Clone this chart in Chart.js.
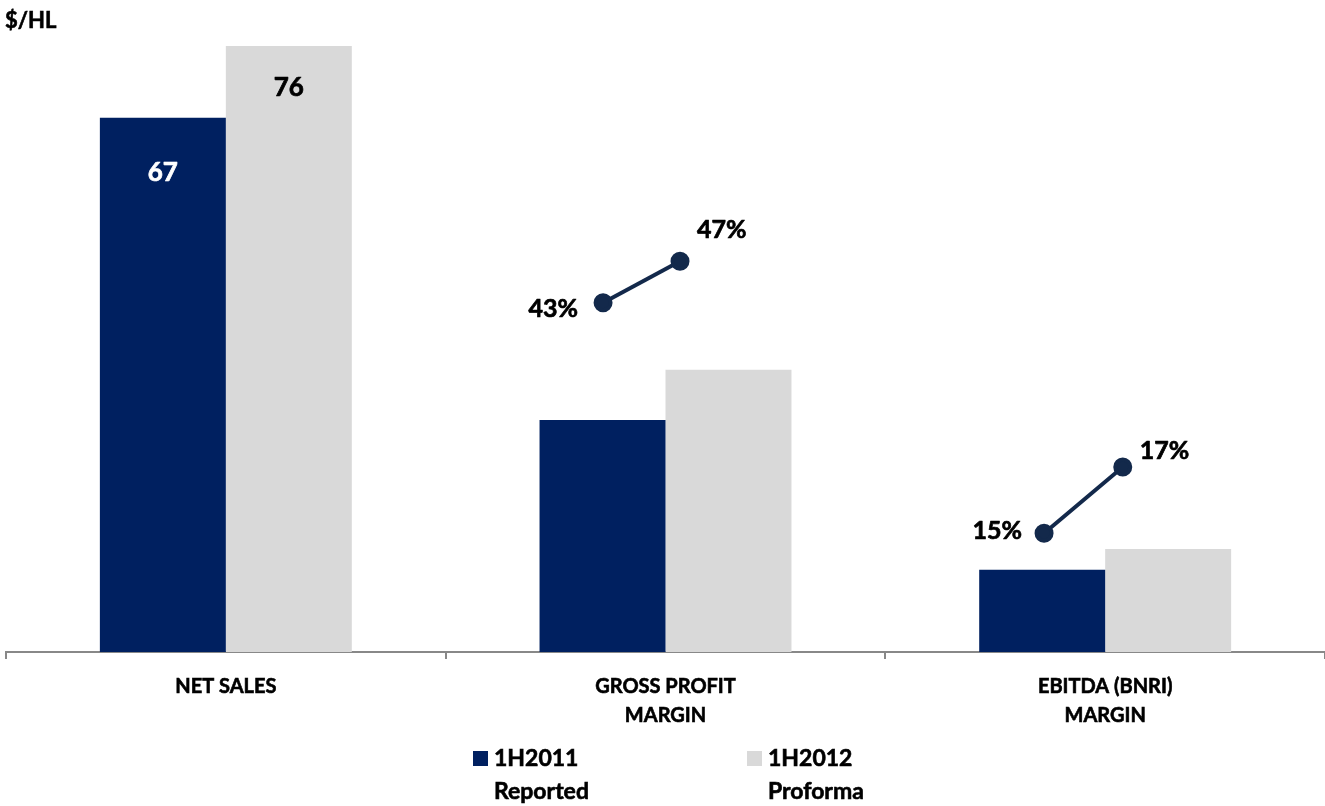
<!DOCTYPE html>
<html>
<head>
<meta charset="utf-8">
<script src="https://cdn.jsdelivr.net/npm/chart.js@4"></script>
<style>
  html, body { margin: 0; padding: 0; background: #fff; }
  #wrap { position: relative; width: 1325px; height: 806px; }
  canvas { position: absolute; left: 0; top: 0; }
  .t { position: absolute; font-family: Lato, "Open Sans", sans-serif; font-weight: 700; color: #000; white-space: nowrap; -webkit-text-stroke: 0.6px #000; }
  .sq { position: absolute; width: 15px; height: 15px; }
</style>
</head>
<body>
<div id="wrap">
  <canvas id="c" width="1325" height="806"></canvas>
  <canvas id="c2" width="1325" height="806"></canvas>
  <div class="t" style="left:5px; top:6px; font-size:22px; line-height:27px;">$/HL</div>
  <div class="sq" style="left:473px; top:751px; background:#002060;"></div>
  <div class="t" style="left:494px; top:741px; font-size:23px; line-height:33px;">1H2011<br>Reported</div>
  <div class="sq" style="left:747px; top:751px; background:#D9D9D9;"></div>
  <div class="t" style="left:768px; top:741px; font-size:23px; line-height:33px;">1H2012<br>Proforma</div>
</div>
<script>
// ---- data ----
const categories = [["NET SALES"], ["GROSS PROFIT", "MARGIN"], ["EBITDA (BNRI)", "MARGIN"]];
const seriesNames = ["1H2011 Reported", "1H2012 Proforma"];
const reported = [67, 29.1, 10.3];
const proforma = [76, 35.4, 12.9];
const barLabelsReported = ["67", "", ""];
const barLabelsProforma = ["76", "", ""];
// margin connector lines (category index + offset, plotted height on $/HL axis)
const gpMarginX = [0.858, 1.033];
const gpMarginY = [43.8, 49.0];
const gpMarginLabels = ["43%", "47%"];
const ebitdaMarginX = [1.861, 2.040];
const ebitdaMarginY = [14.9, 23.2];
const ebitdaMarginLabels = ["15%", "17%"];

const DARK = "#002060", GRAY = "#D9D9D9", LINE = "#13294B";
const FONT = "Lato, 'Open Sans', sans-serif";
const WEIGHT = "700";
const Y_MAX = 80;

const toPts = (xs, ys) => xs.map((x, i) => ({ x: x, y: ys[i] }));

const lineLabelPlacement = [
  [{ align: "right", dx: -25, dy: 6 }, { align: "left", dx: 17, dy: -31 }],
  [{ align: "right", dx: -22, dy: -2 }, { align: "left", dx: 17, dy: -16 }]
];

function boldText(ctx, txt, x, y) {
  ctx.fillText(txt, x, y);
  ctx.strokeText(txt, x, y);
}

const barLabelPlugin = {
  id: "barLabels",
  afterDatasetsDraw(chart) {
    const ctx = chart.ctx;
    ctx.save();
    ctx.font = WEIGHT + " 26px " + FONT;
    ctx.textAlign = "center";
    ctx.textBaseline = "middle";
    ctx.lineWidth = 0.7;
    ctx.lineJoin = "round";
    [[0, barLabelsReported, "#fff", 55], [1, barLabelsProforma, "#000", 42]].forEach(([di, labels, color, off]) => {
      chart.getDatasetMeta(di).data.forEach((el, i) => {
        if (!labels[i]) return;
        ctx.fillStyle = color; ctx.strokeStyle = color;
        boldText(ctx, labels[i], el.x, el.y + off);
      });
    });
    ctx.restore();
  }
};

const lineLabelPlugin = {
  id: "lineLabels",
  afterDatasetsDraw(chart) {
    const ctx = chart.ctx;
    ctx.save();
    ctx.font = WEIGHT + " 25px " + FONT;
    ctx.textBaseline = "middle";
    ctx.fillStyle = "#000"; ctx.strokeStyle = "#000";
    ctx.lineWidth = 0.7; ctx.lineJoin = "round";
    [gpMarginLabels, ebitdaMarginLabels].forEach((labels, di) => {
      chart.getDatasetMeta(di).data.forEach((p, i) => {
        const pl = lineLabelPlacement[di][i];
        ctx.textAlign = pl.align;
        boldText(ctx, labels[i], p.x + pl.dx, p.y + pl.dy);
      });
    });
    ctx.restore();
  }
};

// bar chart with category axis
const barChart = new Chart(document.getElementById("c"), {
  type: "bar",
  data: {
    labels: categories,
    datasets: [
      { label: seriesNames[0], data: reported, backgroundColor: DARK },
      { label: seriesNames[1], data: proforma, backgroundColor: GRAY }
    ]
  },
  options: {
    responsive: false,
    animation: false,
    categoryPercentage: 0.573,
    barPercentage: 1.0,
    layout: { padding: { top: 14, left: 6, right: 0, bottom: 0 } },
    plugins: { legend: { display: false }, tooltip: { enabled: false } },
    scales: {
      x: {
        type: "category",
        offset: true,
        grid: { display: true, offset: true, drawOnChartArea: false, drawTicks: true, tickLength: 7, color: "#888", lineWidth: 2 },
        border: { display: true, color: "#888", width: 2 },
        ticks: { color: "#000", font: { family: FONT, weight: WEIGHT, size: 20, lineHeight: 1.45 }, padding: 13,
                 textStrokeColor: "#000", textStrokeWidth: 0.6, maxRotation: 0, autoSkip: false },
        afterFit(scale) { scale.height = 154; scale.paddingLeft = 0; scale.paddingRight = 0; }
      },
      y: { min: 0, max: Y_MAX, display: false }
    }
  },
  plugins: [barLabelPlugin]
});

const ca = barChart.chartArea;

// margin connector lines, drawn on a transparent overlay with the same plot frame
new Chart(document.getElementById("c2"), {
  type: "scatter",
  data: {
    datasets: [
      { label: "Gross profit margin", data: toPts(gpMarginX, gpMarginY), showLine: true,
        borderColor: LINE, backgroundColor: LINE, borderWidth: 4, pointRadius: 7.5, pointHoverRadius: 7.5 },
      { label: "EBITDA margin", data: toPts(ebitdaMarginX, ebitdaMarginY), showLine: true,
        borderColor: LINE, backgroundColor: LINE, borderWidth: 4, pointRadius: 7.5, pointHoverRadius: 7.5 }
    ]
  },
  options: {
    responsive: false,
    animation: false,
    layout: { autoPadding: false, padding: { top: ca.top, left: ca.left, right: 1325 - ca.right, bottom: 806 - ca.bottom } },
    plugins: { legend: { display: false }, tooltip: { enabled: false } },
    scales: {
      x: { type: "linear", min: -0.5, max: 2.5, display: false },
      y: { type: "linear", min: 0, max: Y_MAX, display: false }
    }
  },
  plugins: [lineLabelPlugin]
});
</script>
</body>
</html>
